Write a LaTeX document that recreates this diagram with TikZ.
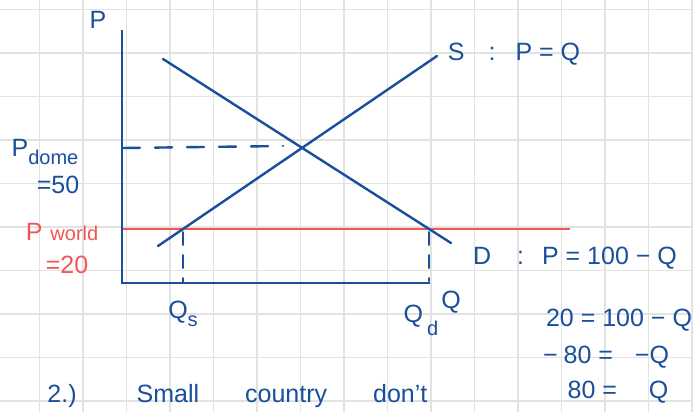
\documentclass[tikz,border=0pt]{standalone}
\usepackage{fontspec}
\setmainfont{Liberation Sans}
\definecolor{ink}{HTML}{1A4F9A}
\definecolor{redink}{HTML}{F25555}
\definecolor{gridc}{HTML}{E2E2E2}
\begin{document}
\begin{tikzpicture}[x=1pt,y=-1pt,
  hand/.style={draw=ink, line width=2.4pt, line cap=round},
  lbl/.style={text=ink, font=\fontsize{25}{27}\selectfont, inner sep=0pt, anchor=center},
  rlbl/.style={lbl, text=redink},
  dashline/.style={hand, dash pattern=on 17pt off 15pt},
  tickdash/.style={hand, line width=2pt, dash pattern=on 13pt off 10pt}]
\useasboundingbox (0,0) rectangle (693,412);
\clip (0,0) rectangle (693,412);
\fill[white] (0,0) rectangle (693,412);
\foreach \i in {0,...,16} \draw[gridc, line width=1.2pt] ({-4+43.5*\i},0) -- ++(0,412);
\foreach \j in {0,...,9} \draw[gridc, line width=1.2pt] (0,{9.5+43.5*\j}) -- ++(693,0);
% coordinates
\coordinate (ytop) at (122,30);
\coordinate (orig) at (122,283);
\coordinate (xend) at (430,283);
\coordinate (d1) at (163,59);
\coordinate (d2) at (451,243);
\coordinate (s1) at (158,246);
\coordinate (s2) at (437,56);
\coordinate (pd0) at (123,148);
\coordinate (pd1) at (283,146);
\coordinate (w0) at (123,229);
\coordinate (w1) at (570,229);
\coordinate (qs0) at (183,232);
\coordinate (qs1) at (183,282);
\coordinate (qd0) at (429,232);
\coordinate (qd1) at (429,281);
% world price
\draw[draw=redink, line width=2pt] (w0) -- (w1);
% axes
\draw[hand, line width=2.8pt, line cap=butt] (ytop) -- (orig) -- (xend);
% curves
\draw[hand] (d1) -- (d2);
\draw[hand] (s1) -- (s2);
\draw[dashline] (pd0) -- (pd1);
\draw[tickdash] (qs0) -- (qs1);
\draw[tickdash] (qd0) -- (qd1);
% labels
\node[lbl] (lp) at (98,20) {P};
\node[lbl] (lpd) at (45,152) {P\raisebox{-8pt}{\fontsize{20}{22}\selectfont dome}};
\node[lbl] (l50) at (58,185) {=50};
\node[rlbl] (lpw) at (62,232) {P\hspace{8pt}\fontsize{20}{22}\selectfont world};
\node[rlbl] (l20) at (67,265) {=20};
\node[lbl] (lqs) at (183,314) {Q\raisebox{-8pt}{\fontsize{20}{22}\selectfont s}};
\node[lbl] (lqd) at (421,320) {Q\hspace{4pt}\raisebox{-13pt}{\fontsize{20}{22}\selectfont d}};
\node[lbl] (lq) at (451,302) {Q};
\node[lbl] (ls) at (514,54) {S\hspace{24pt}:\hspace{20pt}P = Q};
\node[lbl] (ld) at (575,258) {D\hspace{26pt}:\hspace{18pt}P = 100 − Q};
\node[lbl] (le1) at (619,320) {20 = 100 − Q};
\node[lbl] (le2) at (606,357) {−\hspace{6pt}80 =\hspace{22pt}−Q};
\node[lbl] (le3) at (618,392) {80 =\hspace{32pt}Q};
\node[lbl] (l2) at (62,396) {2.)};
\node[lbl] (lsc) at (282,396) {Small\hspace{46pt}country\hspace{46pt}don't};
\end{tikzpicture}
\end{document}
